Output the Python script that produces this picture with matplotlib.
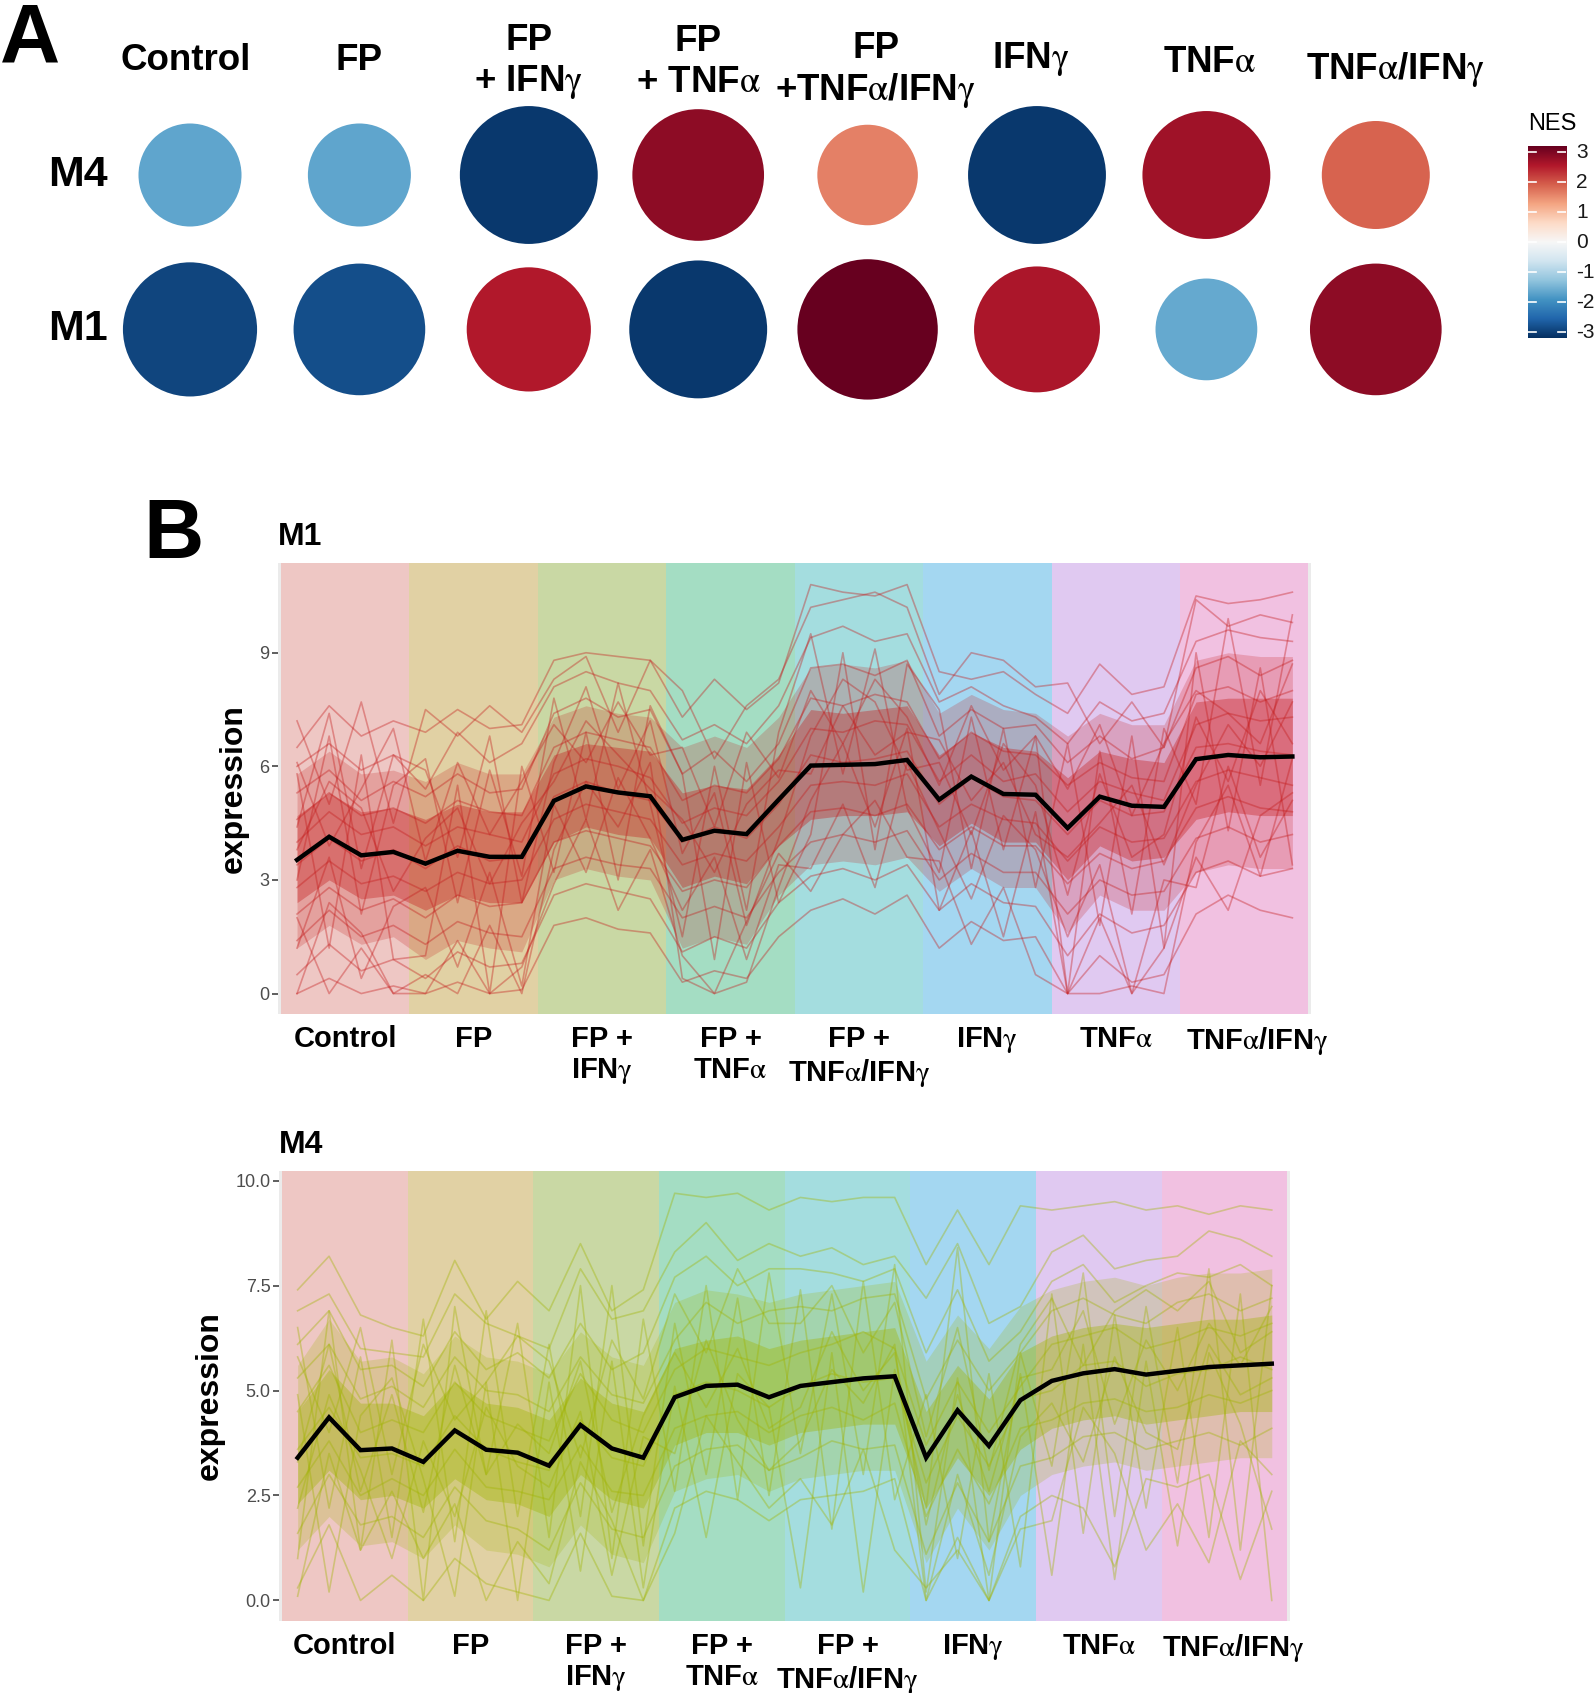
import numpy as np
import matplotlib
matplotlib.use("Agg")
import matplotlib.pyplot as plt
import matplotlib.transforms as mtransforms
from matplotlib.colors import Normalize

plt.rcParams['font.family'] = ['Liberation Sans', 'DejaVu Sans']
plt.rcParams['mathtext.fontset'] = 'stix'

G = r"$\mathrm{\gamma}$"
A = r"$\mathrm{\alpha}$"

# ---------------- data ----------------
conditions = ["Control", "FP", "FP\n+ IFN" + G, "FP\n+ TNF" + A,
              "FP\n+TNF" + A + "/IFN" + G, "IFN" + G, "TNF" + A, "TNF" + A + "/IFN" + G]
xlabels_b = ["Control", "FP", "FP +\nIFN" + G, "FP +\nTNF" + A,
             "FP +\nTNF" + A + "/IFN" + G, "IFN" + G, "TNF" + A, "TNF" + A + "/IFN" + G]
modules = ["M4", "M1"]
nes_m4 = [-1.7, -1.7, -3.1, 2.85, 1.6, -3.1, 2.7, 1.9]
nes_m1 = [-2.95, -2.85, 2.55, -3.1, 3.2, 2.62, -1.65, 2.85]

# mean expression per sample (4 samples per condition)
m1_mean = [3.53, 4.14, 3.65, 3.74, 3.43, 3.77, 3.61, 3.61, 5.09, 5.47, 5.31, 5.21,
           4.06, 4.30, 4.21, 5.12, 6.02, 6.04, 6.06, 6.17, 5.12, 5.73, 5.27, 5.25,
           4.37, 5.20, 4.96, 4.93, 6.19, 6.30, 6.24, 6.26]
m4_mean = [3.40, 4.36, 3.58, 3.62, 3.30, 4.05, 3.59, 3.52, 3.21, 4.18, 3.62, 3.40,
           4.84, 5.11, 5.14, 4.84, 5.11, 5.20, 5.29, 5.34, 3.40, 4.53, 3.68, 4.77,
           5.23, 5.41, 5.51, 5.38, 5.47, 5.56, 5.60, 5.64]

# spread of the gene cloud per sample
m1_q10 = [1.2, 1.8, 1.3, 1.5, 0.9, 1.4, 1.2, 1.1, 3.0, 3.3, 3.1, 3.0, 1.2, 1.5, 1.3, 2.6,
          3.4, 3.5, 3.4, 3.6, 2.7, 3.3, 2.8, 2.8, 1.6, 2.6, 2.2, 2.2, 3.2, 3.4, 3.3, 3.3]
m1_q25 = [2.4, 3.0, 2.5, 2.6, 2.2, 2.6, 2.4, 2.4, 4.0, 4.4, 4.2, 4.1, 2.8, 3.1, 2.9, 3.9,
          4.6, 4.7, 4.7, 4.8, 3.9, 4.5, 4.0, 4.0, 3.0, 3.9, 3.5, 3.6, 4.6, 4.8, 4.7, 4.7]
m1_q75 = [4.7, 5.3, 4.8, 4.9, 4.6, 5.0, 4.8, 4.8, 6.3, 6.6, 6.5, 6.4, 5.3, 5.5, 5.4, 6.3,
          7.5, 7.4, 7.5, 7.6, 6.3, 6.9, 6.5, 6.4, 5.7, 6.4, 6.2, 6.1, 7.7, 7.8, 7.8, 7.8]
m1_q90 = [5.8, 6.4, 5.8, 5.9, 5.6, 6.1, 5.8, 5.8, 7.3, 7.6, 7.4, 7.3, 6.5, 6.8, 6.5, 7.3,
          8.6, 8.7, 8.6, 8.8, 7.4, 7.9, 7.5, 7.4, 6.8, 7.4, 7.1, 7.1, 8.8, 9.0, 8.9, 8.9]

m4_q10 = [1.2, 2.0, 1.3, 1.4, 1.0, 1.8, 1.2, 1.1, 0.8, 1.8, 1.1, 0.9, 2.6, 2.9, 3.0, 2.6,
          2.9, 3.0, 3.1, 3.1, 0.9, 2.2, 1.2, 2.5, 3.0, 3.2, 3.3, 3.1, 3.2, 3.3, 3.4, 3.4]
m4_q25 = [2.3, 3.1, 2.4, 2.5, 2.2, 2.9, 2.4, 2.3, 2.0, 3.0, 2.4, 2.2, 3.7, 4.0, 4.0, 3.7,
          4.0, 4.1, 4.2, 4.2, 2.2, 3.4, 2.5, 3.6, 4.1, 4.3, 4.4, 4.2, 4.3, 4.4, 4.5, 4.5]
m4_q75 = [4.5, 5.5, 4.7, 4.7, 4.4, 5.2, 4.7, 4.6, 4.3, 5.3, 4.7, 4.5, 6.0, 6.2, 6.3, 6.0,
          6.2, 6.3, 6.4, 6.5, 4.5, 5.6, 4.8, 5.9, 6.3, 6.5, 6.6, 6.5, 6.6, 6.7, 6.7, 6.8]
m4_q90 = [5.6, 6.7, 5.7, 5.8, 5.4, 6.3, 5.8, 5.7, 5.4, 6.4, 5.8, 5.6, 7.1, 7.4, 7.3, 7.1,
          7.3, 7.4, 7.5, 7.6, 5.7, 6.8, 6.0, 7.0, 7.4, 7.6, 7.7, 7.5, 7.7, 7.8, 7.8, 7.9]

# a selection of individual gene profiles
m1_genes = [
    [6.5, 7.6, 6.8, 7.2, 6.9, 7.5, 7.0, 7.1, 8.8, 9.0, 8.9, 8.8, 7.3, 8.3, 7.5, 8.2,
     10.8, 10.6, 10.5, 10.8, 8.5, 8.3, 8.5, 7.9, 7.4, 8.7, 7.9, 8.1, 10.5, 10.3, 10.4, 10.6],
    [6.0, 6.6, 5.9, 6.3, 5.4, 6.9, 6.1, 6.6, 8.1, 8.5, 8.2, 8.0, 6.7, 7.1, 6.6, 7.6,
     9.4, 9.7, 9.3, 9.5, 7.7, 8.1, 7.6, 7.3, 6.6, 7.7, 7.2, 7.4, 9.3, 9.6, 9.4, 9.3],
    [5.3, 5.9, 5.1, 5.6, 5.2, 5.8, 5.3, 5.4, 7.4, 7.8, 7.3, 7.5, 5.8, 6.4, 5.6, 6.6,
     8.6, 8.7, 8.4, 8.8, 6.8, 7.5, 7.0, 7.1, 6.1, 6.8, 6.2, 6.5, 8.6, 8.9, 8.4, 8.8],
    [4.6, 5.3, 4.7, 4.9, 4.5, 5.1, 4.8, 4.7, 6.5, 6.9, 6.7, 6.5, 5.1, 5.5, 5.3, 6.2,
     7.8, 7.6, 7.9, 7.7, 6.2, 6.9, 6.4, 6.3, 5.5, 6.1, 5.7, 5.6, 7.9, 8.1, 7.7, 8.0],
    [4.0, 4.8, 4.2, 4.4, 3.9, 4.4, 4.2, 4.0, 5.8, 6.2, 6.0, 5.7, 4.5, 4.9, 4.7, 5.6,
     7.0, 6.9, 7.2, 7.1, 5.6, 6.3, 5.6, 5.8, 4.8, 5.6, 5.3, 5.1, 7.1, 7.4, 7.2, 7.3],
    [3.4, 4.1, 3.5, 3.8, 3.3, 3.9, 3.5, 3.6, 5.2, 5.6, 5.3, 5.1, 4.0, 4.4, 4.1, 5.0,
     6.3, 6.1, 6.2, 6.4, 5.0, 5.7, 5.2, 5.1, 4.2, 5.1, 4.7, 4.8, 6.5, 6.6, 6.4, 6.3],
    [2.8, 3.5, 2.9, 3.1, 2.7, 3.2, 2.9, 3.0, 4.6, 5.0, 4.8, 4.6, 3.4, 3.7, 3.5, 4.4,
     5.5, 5.6, 5.5, 5.8, 4.4, 5.0, 4.6, 4.5, 3.5, 4.4, 4.0, 4.1, 5.6, 5.9, 5.7, 5.5],
    [2.1, 2.8, 2.2, 2.5, 2.0, 2.6, 2.3, 2.4, 4.0, 4.3, 4.1, 3.9, 2.7, 3.0, 2.8, 3.9,
     4.8, 4.9, 4.7, 5.0, 3.8, 4.4, 3.9, 3.9, 2.9, 3.7, 3.3, 3.5, 4.9, 5.2, 4.9, 4.8],
    [1.4, 2.2, 1.5, 1.8, 1.3, 1.9, 1.6, 1.5, 3.3, 3.6, 3.4, 3.3, 2.0, 2.3, 2.0, 3.2,
     4.0, 4.2, 4.0, 4.3, 3.0, 3.7, 3.2, 3.2, 2.1, 3.0, 2.6, 2.7, 4.1, 4.4, 4.0, 4.2],
    [0.5, 1.3, 0.6, 0.9, 0.4, 1.1, 0.7, 0.8, 2.6, 2.9, 2.7, 2.5, 1.1, 1.5, 1.2, 2.4,
     3.1, 3.3, 3.0, 3.4, 2.2, 2.9, 2.4, 2.3, 1.0, 2.1, 1.6, 1.8, 3.2, 3.5, 3.1, 3.3],
    [0.0, 0.4, 0.0, 0.2, 0.0, 0.3, 0.0, 0.1, 1.8, 2.0, 1.7, 1.6, 0.3, 0.6, 0.4, 1.5,
     2.2, 2.5, 2.1, 2.6, 1.2, 1.9, 1.4, 1.5, 0.0, 1.0, 0.3, 0.5, 2.1, 2.6, 2.2, 2.0],
    [3.0, 6.8, 2.1, 5.5, 6.2, 2.4, 5.9, 3.1, 7.8, 4.6, 8.2, 5.0, 1.5, 6.0, 2.2, 6.9,
     9.5, 5.8, 9.1, 4.9, 3.2, 7.3, 3.8, 6.8, 0.0, 6.4, 2.1, 7.0, 5.0, 9.9, 5.5, 10.0],
    [5.8, 1.2, 6.3, 0.9, 1.0, 5.5, 0.0, 6.0, 3.2, 6.9, 3.0, 7.6, 5.8, 0.9, 6.1, 2.4,
     4.2, 9.0, 3.8, 8.7, 7.5, 3.3, 7.0, 2.8, 6.6, 1.8, 6.8, 1.2, 9.0, 4.3, 8.6, 3.4],
    [7.2, 5.0, 7.7, 4.5, 7.5, 6.8, 7.6, 6.9, 8.3, 8.9, 6.9, 8.8, 8.0, 6.2, 7.6, 8.3,
     10.2, 10.4, 10.6, 10.2, 7.9, 9.0, 8.8, 8.1, 8.2, 6.6, 7.7, 6.5, 10.4, 9.7, 10.0, 9.8],
    [2.0, 0.0, 1.2, 0.0, 0.5, 0.0, 1.8, 0.0, 3.8, 5.6, 4.4, 6.1, 0.4, 0.0, 0.3, 2.8,
     5.1, 6.6, 4.4, 7.0, 2.2, 4.3, 1.5, 4.8, 0.0, 0.0, 0.2, 0.0, 4.0, 5.5, 3.1, 6.2],
    [4.4, 7.4, 3.3, 6.3, 5.9, 3.6, 6.8, 2.4, 6.1, 8.1, 5.4, 7.2, 3.7, 5.3, 1.8, 4.1,
     6.8, 8.3, 7.7, 5.9, 6.1, 4.2, 6.6, 5.5, 2.6, 5.8, 3.6, 4.2, 7.3, 5.6, 8.0, 6.6],
    [1.2, 3.6, 0.4, 2.3, 2.8, 0.7, 3.2, 0.2, 5.0, 3.2, 5.7, 4.1, 2.2, 3.6, 0.9, 3.4,
     3.3, 5.0, 2.8, 6.1, 4.3, 2.5, 4.7, 3.8, 1.5, 3.4, 0.0, 3.0, 2.8, 6.0, 3.6, 5.1],
    [6.1, 3.9, 5.4, 7.0, 3.5, 6.1, 4.2, 5.6, 7.1, 6.1, 7.7, 6.3, 6.5, 4.4, 6.9, 5.7,
     8.0, 6.6, 8.3, 7.3, 5.5, 7.6, 5.9, 6.8, 5.4, 7.1, 4.7, 6.6, 8.0, 7.4, 6.6, 8.7],
    [0.0, 2.4, 1.6, 0.0, 0.0, 1.4, 0.0, 0.7, 2.9, 4.6, 2.2, 3.8, 1.0, 0.0, 1.9, 3.7,
     2.7, 4.2, 5.1, 3.6, 3.5, 1.3, 2.8, 0.5, 0.0, 2.0, 0.0, 1.2, 3.6, 2.2, 4.7, 5.3],
    [3.8, 5.6, 4.9, 2.7, 4.1, 4.9, 2.9, 4.5, 5.6, 7.2, 6.3, 5.4, 4.6, 3.2, 5.0, 5.9,
     5.8, 7.6, 6.3, 6.9, 6.7, 5.1, 6.1, 4.2, 3.6, 4.5, 5.5, 3.4, 5.5, 7.1, 6.0, 7.7],
]

m4_genes = [
    [7.4, 8.2, 6.8, 6.5, 6.3, 8.1, 6.7, 7.6, 6.9, 8.5, 6.9, 7.4, 9.7, 9.6, 9.7, 9.3,
     9.6, 9.5, 9.6, 9.6, 8.0, 9.3, 8.0, 9.4, 9.3, 9.4, 9.5, 9.3, 9.4, 9.2, 9.4, 9.3],
    [6.9, 7.3, 6.0, 5.9, 5.8, 7.3, 6.6, 6.3, 6.0, 7.9, 6.7, 6.9, 8.3, 9.0, 8.1, 8.5,
     8.2, 8.4, 8.0, 8.2, 7.2, 8.5, 6.6, 7.0, 8.3, 8.7, 7.9, 8.1, 8.2, 8.8, 8.6, 8.2],
    [6.1, 6.9, 5.5, 5.6, 5.1, 6.4, 5.5, 5.9, 5.3, 6.6, 5.5, 5.9, 7.7, 8.2, 7.5, 7.9,
     7.9, 7.8, 7.6, 7.9, 5.9, 7.4, 5.7, 6.4, 7.6, 8.0, 7.1, 7.5, 7.8, 7.7, 8.0, 7.5],
    [5.3, 6.1, 4.8, 5.1, 4.6, 5.8, 5.0, 4.9, 4.5, 5.8, 4.9, 4.7, 6.2, 7.1, 6.6, 6.9,
     7.0, 6.9, 7.2, 7.3, 4.8, 6.2, 5.0, 5.9, 6.9, 7.2, 6.8, 6.6, 7.1, 7.3, 6.9, 7.2],
    [4.5, 5.6, 4.0, 4.3, 4.0, 5.2, 4.4, 4.1, 3.8, 5.4, 4.3, 4.0, 5.5, 6.0, 5.8, 5.6,
     5.9, 6.1, 6.4, 6.0, 3.7, 5.2, 4.0, 5.1, 6.1, 6.3, 6.5, 6.0, 6.2, 6.5, 6.3, 6.6],
    [3.6, 4.6, 3.4, 3.5, 3.2, 4.4, 3.6, 3.3, 3.1, 4.3, 3.4, 3.2, 4.9, 5.2, 5.0, 4.6,
     5.1, 5.4, 5.2, 5.3, 2.8, 4.4, 3.2, 4.8, 5.0, 5.6, 5.7, 5.1, 5.4, 5.5, 5.8, 5.5],
    [2.7, 3.8, 2.5, 2.9, 2.5, 3.6, 2.7, 2.6, 2.4, 3.7, 2.6, 2.5, 4.1, 4.4, 4.5, 4.0,
     4.4, 4.6, 4.3, 4.7, 2.0, 3.6, 2.3, 4.1, 4.3, 4.7, 4.8, 4.5, 4.6, 4.9, 4.7, 5.0],
    [1.6, 3.0, 1.8, 2.0, 1.5, 2.7, 1.9, 1.7, 1.2, 2.8, 1.7, 1.5, 3.2, 3.6, 3.7, 3.1,
     3.4, 3.8, 3.6, 3.7, 1.1, 2.8, 1.4, 3.2, 3.4, 3.9, 4.0, 3.6, 3.8, 4.0, 3.7, 4.1],
    [0.3, 1.8, 0.0, 0.6, 0.0, 1.0, 0.4, 0.2, 0.0, 1.6, 0.1, 0.0, 2.2, 2.6, 2.4, 1.9,
     2.4, 2.5, 2.6, 2.9, 0.0, 1.5, 0.0, 2.0, 2.5, 2.2, 0.8, 2.9, 2.7, 3.0, 0.5, 2.6],
    [1.0, 6.9, 1.2, 6.2, 0.0, 7.0, 3.0, 6.6, 1.5, 7.5, 1.0, 6.7, 2.6, 7.5, 2.4, 7.8,
     3.5, 7.3, 3.0, 8.0, 0.2, 5.3, 0.0, 5.9, 3.2, 7.8, 2.0, 7.0, 2.8, 7.9, 1.2, 7.5],
    [6.5, 2.2, 5.8, 1.5, 6.7, 1.4, 6.9, 2.0, 6.1, 2.0, 7.5, 1.3, 6.6, 3.0, 7.2, 2.5,
     7.4, 1.7, 7.6, 2.4, 4.9, 1.0, 5.4, 0.8, 7.3, 1.6, 6.8, 2.2, 6.5, 1.5, 7.3, 0.0],
    [4.9, 0.2, 4.4, 5.3, 2.9, 0.1, 5.2, 0.0, 5.2, 0.7, 5.7, 0.3, 5.1, 1.5, 5.4, 4.6,
     0.3, 5.9, 0.2, 5.5, 2.2, 8.4, 1.4, 5.4, 0.6, 6.1, 0.5, 5.7, 1.3, 5.9, 4.2, 1.7],
    [2.2, 4.9, 3.1, 1.0, 3.8, 2.0, 4.6, 3.2, 2.7, 4.5, 0.6, 3.9, 3.5, 6.2, 4.3, 3.1,
     3.8, 5.5, 4.7, 6.1, 0.0, 3.0, 0.6, 3.9, 4.7, 3.3, 5.8, 4.0, 3.6, 6.1, 4.9, 5.3],
    [5.8, 4.0, 6.5, 3.0, 6.1, 4.3, 5.2, 6.3, 5.7, 3.4, 6.2, 4.8, 7.3, 5.9, 7.9, 6.6,
     6.6, 7.5, 5.9, 7.1, 3.9, 6.5, 3.1, 6.1, 7.2, 5.6, 6.9, 7.4, 6.9, 7.6, 5.9, 6.4],
    [0.1, 3.5, 1.2, 2.6, 1.0, 2.3, 0.0, 1.4, 0.4, 3.3, 1.9, 0.0, 1.6, 4.4, 3.3, 2.2,
     2.9, 1.8, 3.6, 1.2, 0.3, 1.2, 0.0, 1.7, 1.9, 4.6, 3.5, 1.2, 2.3, 0.9, 3.8, 3.0],
    [3.3, 6.1, 2.6, 4.9, 2.1, 5.6, 3.0, 4.2, 3.5, 5.7, 2.1, 4.4, 5.9, 4.6, 6.0, 4.1,
     4.6, 6.4, 5.0, 5.9, 1.8, 4.9, 2.6, 5.3, 5.5, 6.9, 4.2, 6.2, 5.0, 6.6, 5.6, 7.0],
]

band_colors = ["#F8766D", "#CD9600", "#7CAE00", "#00BE67",
               "#00BFC4", "#00A9FF", "#C77CFF", "#FF61CC"]

# ---------------- figure ----------------
W, H = 1594, 1693
fig = plt.figure(figsize=(W / 100, H / 100), dpi=100)


def px_axes(left, top, right, bottom):
    return fig.add_axes([left / W, 1 - bottom / H, (right - left) / W, (bottom - top) / H])


# ---------- panel A: dot plot ----------
cmap = plt.get_cmap("RdBu_r")
norm = Normalize(-3.2, 3.2)

axA = px_axes(0, 0, 1470, 420)
col_step, row_step = 169.4, 154.4
axA.set_xlim(-190 / col_step, (1470 - 190) / col_step)
axA.set_ylim((420 - 175) / row_step, -175 / row_step)
axA.axis("off")

for r, vals in enumerate([nes_m4, nes_m1]):
    vals = np.array(vals)
    diam_px = 60.7 + 24.9 * np.abs(vals)
    axA.scatter(np.arange(len(vals)), np.full(len(vals), r), c=vals, cmap=cmap, norm=norm,
                s=(diam_px * 0.72) ** 2, edgecolors="none", clip_on=False)
    axA.text((108 - 190) / col_step, r, modules[r], ha="right", va="center",
             fontsize=31, fontweight="bold")

label_py = [60, 60, 62, 62, 70.5, 59, 63, 69.5]
label_dx = [-4, 0, 0, 0, 8, -6, 3, 20]
for i, lab in enumerate(conditions):
    axA.text(i + label_dx[i] / col_step, (label_py[i] - 175) / row_step, lab,
             ha="center", va="center", fontsize=26.5, fontweight="bold", linespacing=1.2)

fig.text(0.0, 1 - 63 / H, "A", fontsize=60, fontweight="bold", va="baseline", ha="left")

# colorbar
cax = px_axes(1528, 146, 1566, 338)
grad = np.linspace(-3.2, 3.2, 256).reshape(-1, 1)
cax.imshow(grad, aspect="auto", cmap=cmap, norm=norm, origin="lower",
           extent=[0, 1, -3.2, 3.2])
cax.set_xlim(0, 1)
cax.set_ylim(-3.2, 3.2)
cax.set_xticks([])
cax.set_yticks([])
for s in cax.spines.values():
    s.set_visible(False)
for t in range(-3, 4):
    cax.plot([0, 0.2], [t, t], color="white", lw=1.2)
    cax.plot([0.8, 1], [t, t], color="white", lw=1.2)
    cax.text(1.27, t, str(t), transform=cax.transData, ha="left", va="center",
             fontsize=15, color="#1a1a1a", clip_on=False)
fig.text(1528 / W, 1 - 124 / H, "NES", fontsize=17, va="center", ha="left")

# ---------- panel B: expression profiles ----------
fig.text(143 / W, 1 - 558 / H, "B", fontsize=60, fontweight="bold", va="baseline", ha="left")

x = np.arange(32)
panels = [
    ("M1", (278, 563, 1311, 1014), (-0.54, 11.37), [0, 3, 6, 9], ["0", "3", "6", "9"],
     "#c41a1a", m1_genes, (m1_q10, m1_q25, m1_q75, m1_q90), m1_mean, 545, 13),
    ("M4", (279, 1171, 1290, 1621), (-0.49, 10.23), [0, 2.5, 5, 7.5, 10],
     ["0.0", "2.5", "5.0", "7.5", "10.0"],
     "#a0b400", m4_genes, (m4_q10, m4_q25, m4_q75, m4_q90), m4_mean, 1153, 9),
]

for name, box, ylim, yt, ytl, lc, genes, qs, mean, title_y, last_dx in panels:
    ax = px_axes(*box)
    ax.set_facecolor("#ebebeb")
    for k, bc in enumerate(band_colors):
        ax.axvspan(4 * k - 0.5, 4 * k + 3.5, color=bc, alpha=0.3, lw=0, zorder=0)
    q10, q25, q75, q90 = qs
    ax.fill_between(x, q10, q90, color=lc, alpha=0.22, lw=0, zorder=1)
    ax.fill_between(x, q25, q75, color=lc, alpha=0.36, lw=0, zorder=1)
    for g in genes:
        ax.plot(x, g, color=lc, alpha=0.38, lw=1.2, zorder=2)
    ax.plot(x, mean, color="black", lw=3.2, zorder=3, solid_joinstyle="miter")
    ax.set_xlim(-0.593, 31.58)
    ax.set_ylim(*ylim)
    ax.set_yticks(yt)
    ax.set_yticklabels(ytl)
    ax.set_xticks(np.arange(8) * 4 + 1.5)
    ax.set_xticklabels(xlabels_b, fontsize=21, fontweight="bold", linespacing=1.15)
    ax.tick_params(axis="x", length=0, pad=8)
    ax.tick_params(axis="y", length=4, width=1.1, color="#333333", labelcolor="#4d4d4d",
                   labelsize=13, pad=2)
    last = ax.get_xticklabels()[-1]
    last.set_transform(last.get_transform() +
                       mtransforms.ScaledTranslation(last_dx / 100, 0, fig.dpi_scale_trans))
    for s in ax.spines.values():
        s.set_visible(False)
    ax.set_ylabel("expression", fontsize=23, fontweight="bold", labelpad=8)
    fig.text(box[0] / W, 1 - title_y / H, name, fontsize=23, fontweight="bold",
             va="baseline", ha="left")

fig.savefig("out.png", dpi=100)
